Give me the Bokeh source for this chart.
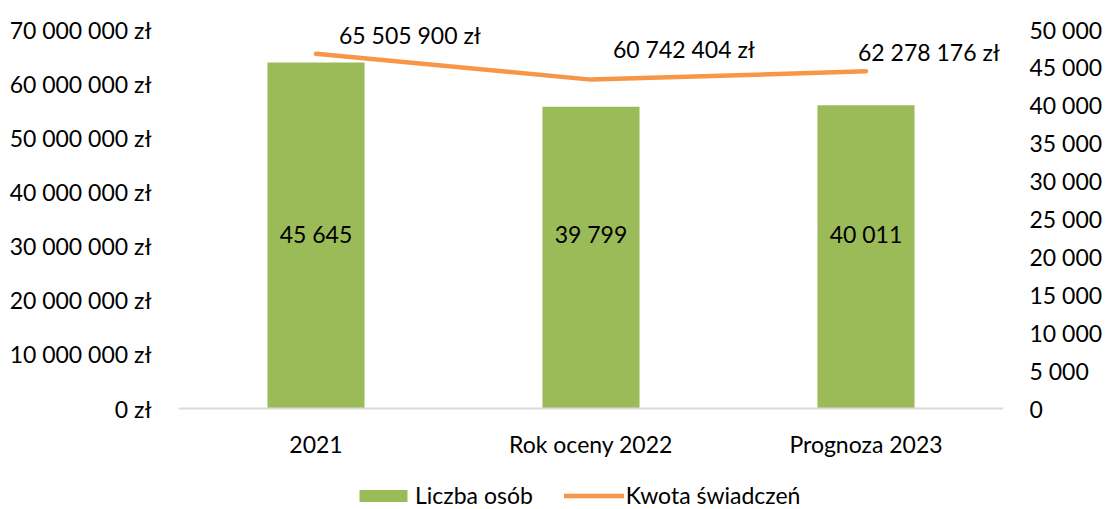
from bokeh.plotting import figure
from bokeh.models import (FactorRange, Range1d, LinearAxis, FixedTicker,
                          CustomJSTickFormatter, ColumnDataSource, LabelSet, Legend, LegendItem)
from bokeh.core.properties import value
from bokeh.embed import file_html
from bokeh.resources import INLINE

# ---- data ----
categories = ["2021", "Rok oceny 2022", "Prognoza 2023"]
liczba_osob = [45645, 39799, 40011]
kwota_swiadczen = [65505900, 60742404, 62278176]
kwota_axis_max = 70_000_000
kwota_tick_step = 10_000_000
osoby_axis_max = 50_000
osoby_tick_step = 5_000

# ---- layout / styles ----
W, H = 1105, 509
FRAME_TOP = 4                       # screen row where the drawing area starts
PX_TOP, PX_ZERO = 29, 408          # screen rows of axis max and of zero
FONT = "Lato"
FS = "23px"
GREEN = "#9BBB59"
ORANGE = "#F79646"
TXT = "#000000"
line_lbl_dx = [23, 22, -8]
line_lbl_dy = [19, 31, 19]

span = PX_ZERO - PX_TOP
below = (H - PX_ZERO) / span        # extra room under zero for labels/legend
above = (PX_TOP - FRAME_TOP) / span  # extra room over the top tick for data labels


def fmt(n):
    return f"{n:,}".replace(",", " ")


src = ColumnDataSource(dict(
    cat=categories,
    osoby=liczba_osob,
    kwota=kwota_swiadczen,
    osoby_lbl=[fmt(v) for v in liczba_osob],
    kwota_lbl=[fmt(v) + " zł" for v in kwota_swiadczen],
    base=[0] * len(categories),
    lx=line_lbl_dx,
    ly=line_lbl_dy,
))

p = figure(x_range=FactorRange(*categories, range_padding=0),
           y_range=Range1d(-below * kwota_axis_max, (1 + above) * kwota_axis_max),
           width=W, height=H, output_backend="svg", toolbar_location=None,
           min_border_left=178, min_border_right=100, min_border_top=FRAME_TOP,
           min_border_bottom=0)
p.extra_y_ranges = {"osoby": Range1d(-below * osoby_axis_max, (1 + above) * osoby_axis_max)}
p.outline_line_color = None
p.xgrid.grid_line_color = None
p.ygrid.grid_line_color = None
p.background_fill_color = "white"
p.border_fill_color = "white"

bars = p.vbar(x="cat", top="osoby", bottom=0, width=0.353, source=src, y_range_name="osoby",
              fill_color=GREEN, line_color=None)
line = p.line(x="cat", y="kwota", source=src, line_color=ORANGE, line_width=4.5,
              line_cap="round", line_join="round")

# left axis (money)
ly_ax = p.yaxis[0]
ly_ax.ticker = FixedTicker(ticks=list(range(0, kwota_axis_max + 1, kwota_tick_step)))
ly_ax.formatter = CustomJSTickFormatter(code="""
return Math.round(tick).toString().replace(/\\B(?=(\\d{3})+(?!\\d))/g, " ") + " zł";
""")
# right axis (persons)
r_ax = LinearAxis(y_range_name="osoby",
                  ticker=FixedTicker(ticks=list(range(0, osoby_axis_max + 1, osoby_tick_step))),
                  formatter=CustomJSTickFormatter(code="""
return Math.round(tick).toString().replace(/\\B(?=(\\d{3})+(?!\\d))/g, " ");
"""))
p.add_layout(r_ax, "right")

for ax in (ly_ax, r_ax):
    ax.axis_line_color = None
    ax.major_tick_line_color = None
    ax.minor_tick_line_color = None
    ax.major_label_text_font = FONT
    ax.major_label_text_font_size = FS
    ax.major_label_text_color = TXT
ly_ax.major_label_standoff = 21
r_ax.major_label_standoff = 20

xa = p.xaxis[0]
xa.fixed_location = 0
xa.axis_line_color = "#D9D9D9"
xa.axis_line_width = 2
xa.major_tick_line_color = None
xa.minor_tick_line_color = None
xa.major_label_text_font = FONT
xa.major_label_text_font_size = FS
xa.major_label_text_color = TXT
xa.major_label_standoff = 15

# data labels
bar_labels = LabelSet(x="cat", y="base", text="osoby_lbl", source=src, y_range_name="osoby",
                      y_offset=175, text_align="center", text_baseline="middle",
                      text_font=value(FONT), text_font_size=value(FS), text_color=TXT)
line_labels = LabelSet(x="cat", y="kwota", text="kwota_lbl", source=src,
                       x_offset="lx", y_offset="ly", text_align="left", text_baseline="middle",
                       text_font=value(FONT), text_font_size=value(FS), text_color=TXT)
p.add_layout(bar_labels)
p.add_layout(line_labels)

legend = Legend(items=[LegendItem(label="Liczba osób", renderers=[bars]),
                       LegendItem(label="Kwota świadczeń", renderers=[line])],
                orientation="horizontal", location=(175, 0),
                glyph_width=60, glyph_height=15, label_standoff=2, spacing=31,
                padding=0, margin=0, border_line_color=None, background_fill_alpha=0,
                label_text_font=FONT, label_text_font_size=FS, label_text_color=TXT)
p.add_layout(legend)

open("out.html", "w").write(file_html(p, INLINE))
